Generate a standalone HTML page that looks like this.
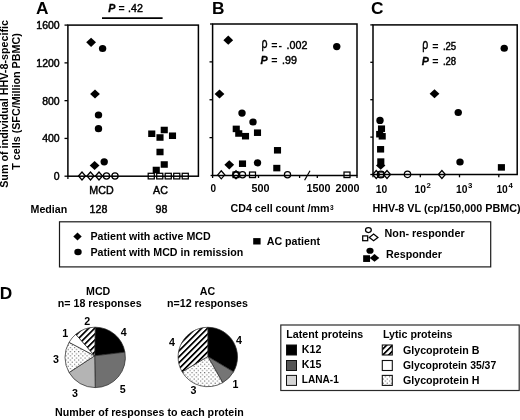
<!DOCTYPE html>
<html><head><meta charset="utf-8"><title>Figure</title>
<style>
html,body{margin:0;padding:0;background:#fff;}
svg{display:block;}
text{font-family:"Liberation Sans", Arial, sans-serif;fill:#000;}
</style></head><body>
<svg width="520" height="420" viewBox="0 0 520 420">
<defs>
<pattern id="hatch" width="4.2" height="4.2" patternUnits="userSpaceOnUse" patternTransform="rotate(-45)">
<rect width="4.2" height="4.2" fill="#fff"/><rect width="4.2" height="1.75" fill="#000"/>
</pattern>
<pattern id="dots" width="4.2" height="4.2" patternUnits="userSpaceOnUse">
<rect width="4.2" height="4.2" fill="#fff"/><rect x="0.5" y="0.5" width="1" height="1" fill="#4a4a4a"/><rect x="2.6" y="2.6" width="1" height="1" fill="#4a4a4a"/>
</pattern>
</defs>
<rect width="520" height="420" fill="#fff"/>

<text x="36" y="13.5" font-size="17.3" font-weight="bold" text-anchor="start" >A</text>
<text x="212" y="13.5" font-size="17.3" font-weight="bold" text-anchor="start" >B</text>
<text x="371" y="13.5" font-size="17.3" font-weight="bold" text-anchor="start" >C</text>
<text x="-0.3" y="299" font-size="17.3" font-weight="bold" text-anchor="start" >D</text>
<text transform="translate(7.9,187.8) rotate(-90)" font-size="11" font-weight="bold" textLength="167.8" lengthAdjust="spacingAndGlyphs">Sum of individual HHV-8-specific</text>
<text transform="translate(20.4,169.7) rotate(-90)" font-size="11" font-weight="bold" textLength="136.4" lengthAdjust="spacingAndGlyphs">T cells (SFC/Million PBMC)</text>
<rect x="67.9" y="25.1" width="130.5" height="151.1" fill="none" stroke="#000" stroke-width="1.5"/>
<line x1="64.5" y1="25.1" x2="67.9" y2="25.1" stroke="#000" stroke-width="1.3"/>
<text x="59.7" y="29.0" font-size="10.5" stroke="#000" stroke-width="0.45" text-anchor="end" >1600</text>
<line x1="64.5" y1="62.875" x2="67.9" y2="62.875" stroke="#000" stroke-width="1.3"/>
<text x="59.7" y="66.775" font-size="10.5" stroke="#000" stroke-width="0.45" text-anchor="end" >1200</text>
<line x1="64.5" y1="100.65" x2="67.9" y2="100.65" stroke="#000" stroke-width="1.3"/>
<text x="59.7" y="104.55000000000001" font-size="10.5" stroke="#000" stroke-width="0.45" text-anchor="end" >800</text>
<line x1="64.5" y1="138.42499999999998" x2="67.9" y2="138.42499999999998" stroke="#000" stroke-width="1.3"/>
<text x="59.7" y="142.325" font-size="10.5" stroke="#000" stroke-width="0.45" text-anchor="end" >400</text>
<line x1="64.5" y1="176.2" x2="67.9" y2="176.2" stroke="#000" stroke-width="1.3"/>
<text x="59.7" y="180.1" font-size="10.5" stroke="#000" stroke-width="0.45" text-anchor="end" >0</text>
<line x1="67.9" y1="176.2" x2="67.9" y2="179" stroke="#000" stroke-width="1.3"/>
<text x="108.3" y="11.5" font-size="10.67" font-weight="bold" font-style="italic" stroke="#000" stroke-width="0.3">P</text>
<text x="118.6" y="11.5" font-size="10.67" font-weight="bold">=</text>
<text x="128.0" y="11.5" font-size="10.67" stroke="#000" stroke-width="0.45">.42</text>
<line x1="102" y1="18.1" x2="162.6" y2="18.1" stroke="#000" stroke-width="1.8"/>
<polygon points="86.20,42.30 91.10,37.70 96.00,42.30 91.10,46.90" fill="#000"/>
<ellipse cx="102.60" cy="48.50" rx="3.70" ry="3.60" fill="#000"/>
<polygon points="90.10,94.00 95.00,89.40 99.90,94.00 95.00,98.60" fill="#000"/>
<ellipse cx="98.50" cy="115.00" rx="3.70" ry="3.60" fill="#000"/>
<ellipse cx="98.50" cy="128.70" rx="3.70" ry="3.60" fill="#000"/>
<polygon points="89.70,165.50 94.60,160.90 99.50,165.50 94.60,170.10" fill="#000"/>
<ellipse cx="104.20" cy="161.80" rx="3.70" ry="3.60" fill="#000"/>
<polygon points="78.50,176.00 82.00,172.00 85.50,176.00 82.00,180.00" fill="none" stroke="#000" stroke-width="1.25"/>
<polygon points="87.00,176.00 90.50,172.00 94.00,176.00 90.50,180.00" fill="none" stroke="#000" stroke-width="1.25"/>
<polygon points="95.50,176.00 99.00,172.00 102.50,176.00 99.00,180.00" fill="none" stroke="#000" stroke-width="1.25"/>
<ellipse cx="106.50" cy="176.00" rx="3.10" ry="3.10" fill="none" stroke="#000" stroke-width="1.25"/>
<ellipse cx="115.00" cy="176.00" rx="3.10" ry="3.10" fill="none" stroke="#000" stroke-width="1.25"/>
<rect x="148.20" y="130.48" width="7.10" height="6.53" fill="#000"/>
<rect x="160.70" y="126.73" width="7.10" height="6.53" fill="#000"/>
<rect x="156.45" y="134.23" width="7.10" height="6.53" fill="#000"/>
<rect x="168.95" y="132.48" width="7.10" height="6.53" fill="#000"/>
<rect x="156.45" y="148.73" width="7.10" height="6.53" fill="#000"/>
<rect x="160.70" y="161.23" width="7.10" height="6.53" fill="#000"/>
<rect x="152.70" y="166.73" width="7.10" height="6.53" fill="#000"/>
<rect x="148.20" y="173.29" width="6.10" height="5.61" fill="none" stroke="#000" stroke-width="1.25"/>
<rect x="156.70" y="173.29" width="6.10" height="5.61" fill="none" stroke="#000" stroke-width="1.25"/>
<rect x="165.20" y="173.29" width="6.10" height="5.61" fill="none" stroke="#000" stroke-width="1.25"/>
<rect x="173.70" y="173.29" width="6.10" height="5.61" fill="none" stroke="#000" stroke-width="1.25"/>
<rect x="182.20" y="173.29" width="6.10" height="5.61" fill="none" stroke="#000" stroke-width="1.25"/>
<text x="101.5" y="194" font-size="10.67" stroke="#000" stroke-width="0.45" text-anchor="middle" >MCD</text>
<text x="160.5" y="194" font-size="10.67" stroke="#000" stroke-width="0.45" text-anchor="middle" >AC</text>
<text x="30.5" y="213" font-size="10.67" font-weight="bold" text-anchor="start" >Median</text>
<text x="98.5" y="213" font-size="10.67" stroke="#000" stroke-width="0.45" text-anchor="middle" >128</text>
<text x="161.5" y="213" font-size="10.67" stroke="#000" stroke-width="0.45" text-anchor="middle" >98</text>
<rect x="212.6" y="24" width="144.4" height="151.5" fill="none" stroke="#000" stroke-width="1.5"/>
<line x1="209.5" y1="61.875" x2="212.6" y2="61.875" stroke="#000" stroke-width="1.3"/>
<line x1="209.5" y1="99.75" x2="212.6" y2="99.75" stroke="#000" stroke-width="1.3"/>
<line x1="209.5" y1="137.625" x2="212.6" y2="137.625" stroke="#000" stroke-width="1.3"/>
<polygon points="223.35,40.20 228.25,35.60 233.15,40.20 228.25,44.80" fill="#000"/>
<polygon points="214.60,94.00 219.50,89.40 224.40,94.00 219.50,98.60" fill="#000"/>
<polygon points="224.35,164.80 229.25,160.20 234.15,164.80 229.25,169.40" fill="#000"/>
<ellipse cx="242.00" cy="113.10" rx="3.70" ry="3.60" fill="#000"/>
<ellipse cx="253.00" cy="122.00" rx="3.70" ry="3.60" fill="#000"/>
<ellipse cx="257.50" cy="162.80" rx="3.70" ry="3.60" fill="#000"/>
<ellipse cx="336.75" cy="46.60" rx="3.70" ry="3.60" fill="#000"/>
<rect x="232.70" y="125.63" width="7.10" height="6.53" fill="#000"/>
<rect x="235.20" y="130.23" width="7.10" height="6.53" fill="#000"/>
<rect x="241.95" y="132.93" width="7.10" height="6.53" fill="#000"/>
<rect x="253.95" y="129.43" width="7.10" height="6.53" fill="#000"/>
<rect x="273.95" y="147.03" width="7.10" height="6.53" fill="#000"/>
<rect x="238.95" y="160.43" width="7.10" height="6.53" fill="#000"/>
<rect x="273.25" y="164.83" width="7.10" height="6.53" fill="#000"/>
<polygon points="217.75,174.80 221.25,170.80 224.75,174.80 221.25,178.80" fill="none" stroke="#000" stroke-width="1.25"/>
<rect x="233.00" y="172.04" width="6.00" height="5.52" fill="none" stroke="#000" stroke-width="1.25"/>
<polygon points="232.50,174.80 236.00,170.80 239.50,174.80 236.00,178.80" fill="none" stroke="#000" stroke-width="1.25"/>
<ellipse cx="236.00" cy="174.80" rx="3.10" ry="3.10" fill="none" stroke="#000" stroke-width="1.25"/>
<ellipse cx="242.50" cy="174.80" rx="3.10" ry="3.10" fill="none" stroke="#000" stroke-width="1.25"/>
<rect x="249.50" y="172.04" width="6.00" height="5.52" fill="none" stroke="#000" stroke-width="1.25"/>
<ellipse cx="287.50" cy="174.80" rx="3.10" ry="3.10" fill="none" stroke="#000" stroke-width="1.25"/>
<rect x="344.00" y="172.04" width="6.00" height="5.52" fill="none" stroke="#000" stroke-width="1.25"/>
<line x1="304.6" y1="180.2" x2="310.0" y2="170.8" stroke="#000" stroke-width="1.2"/>
<line x1="299.6" y1="175.5" x2="299.6" y2="178" stroke="#000" stroke-width="1.3"/>
<line x1="317.3" y1="175.5" x2="317.3" y2="178" stroke="#000" stroke-width="1.3"/>
<line x1="212.6" y1="175.5" x2="212.6" y2="178" stroke="#000" stroke-width="1.3"/>
<line x1="258.5" y1="175.5" x2="258.5" y2="178" stroke="#000" stroke-width="1.3"/>
<line x1="357" y1="175.5" x2="357" y2="178" stroke="#000" stroke-width="1.3"/>
<line x1="210.6" y1="175.5" x2="212.6" y2="175.5" stroke="#000" stroke-width="1.3"/>
<line x1="210" y1="24" x2="212.6" y2="24" stroke="#000" stroke-width="1.3"/>
<text x="213.4" y="192" font-size="10" font-weight="bold" text-anchor="middle" >0</text>
<text x="260.6" y="192" font-size="10" font-weight="bold" text-anchor="middle" textLength="18" lengthAdjust="spacingAndGlyphs">500</text>
<text x="318.4" y="192" font-size="10" font-weight="bold" text-anchor="middle" textLength="24" lengthAdjust="spacingAndGlyphs">1500</text>
<text x="347.5" y="192" font-size="10" font-weight="bold" text-anchor="middle" textLength="24" lengthAdjust="spacingAndGlyphs">2000</text>
<text x="230.6" y="212.3" font-size="10.67" font-weight="bold">CD4 cell count /mm<tspan font-size="6.5" dx="0.4" dy="-2.2">3</tspan></text>
<text x="261.4" y="47.599999999999994" font-size="14.5" textLength="6.0" lengthAdjust="spacingAndGlyphs" stroke="#000" stroke-width="0.45">ρ</text>
<text x="271.2" y="48.8" font-size="10.67" font-weight="bold">=</text>
<text x="278.6" y="48.8" font-size="10.67" font-weight="bold">-</text>
<text x="286.6" y="48.8" font-size="10.67" stroke="#000" stroke-width="0.45">.002</text>
<text x="260.6" y="63.6" font-size="10.67" font-weight="bold" font-style="italic" stroke="#000" stroke-width="0.3">P</text>
<text x="271.2" y="63.6" font-size="10.67" font-weight="bold">=</text>
<text x="282" y="63.6" font-size="10.67" stroke="#000" stroke-width="0.45">.99</text>
<rect x="373.0" y="24.9" width="144.20000000000005" height="149.6" fill="none" stroke="#000" stroke-width="1.5"/>
<line x1="370.3" y1="24.9" x2="373.0" y2="24.9" stroke="#000" stroke-width="1.3"/>
<line x1="370.3" y1="62.3" x2="373.0" y2="62.3" stroke="#000" stroke-width="1.3"/>
<line x1="370.3" y1="99.69999999999999" x2="373.0" y2="99.69999999999999" stroke="#000" stroke-width="1.3"/>
<line x1="370.3" y1="137.1" x2="373.0" y2="137.1" stroke="#000" stroke-width="1.3"/>
<line x1="370.3" y1="174.5" x2="373.0" y2="174.5" stroke="#000" stroke-width="1.3"/>
<line x1="373.0" y1="174.5" x2="373.0" y2="177.3" stroke="#000" stroke-width="1.3"/>
<line x1="420.3" y1="174.5" x2="420.3" y2="177.3" stroke="#000" stroke-width="1.3"/>
<line x1="459.5" y1="174.5" x2="459.5" y2="177.3" stroke="#000" stroke-width="1.3"/>
<line x1="498.8" y1="174.5" x2="498.8" y2="177.3" stroke="#000" stroke-width="1.3"/>
<ellipse cx="380.00" cy="120.40" rx="3.70" ry="3.60" fill="#000"/>
<rect x="377.95" y="125.43" width="7.10" height="6.53" fill="#000"/>
<rect x="376.15" y="130.93" width="7.10" height="6.53" fill="#000"/>
<rect x="378.65" y="133.03" width="7.10" height="6.53" fill="#000"/>
<rect x="377.05" y="146.03" width="7.10" height="6.53" fill="#000"/>
<rect x="377.25" y="158.33" width="7.10" height="6.53" fill="#000"/>
<polygon points="376.00,165.60 380.70,161.40 385.40,165.60 380.70,169.80" fill="#000"/>
<ellipse cx="504.25" cy="48.25" rx="3.70" ry="3.60" fill="#000"/>
<polygon points="429.60,93.75 434.50,89.15 439.40,93.75 434.50,98.35" fill="#000"/>
<ellipse cx="458.25" cy="112.50" rx="3.70" ry="3.60" fill="#000"/>
<ellipse cx="460.00" cy="162.00" rx="3.70" ry="3.60" fill="#000"/>
<rect x="497.85" y="164.13" width="7.10" height="6.53" fill="#000"/>
<polygon points="372.75,174.50 376.25,170.50 379.75,174.50 376.25,178.50" fill="none" stroke="#000" stroke-width="1.25"/>
<ellipse cx="380.80" cy="174.50" rx="3.50" ry="3.40" fill="none" stroke="#000" stroke-width="1.25"/>
<rect x="378.10" y="172.02" width="5.40" height="4.97" fill="none" stroke="#000" stroke-width="1.25"/>
<polygon points="383.50,174.50 387.00,170.50 390.50,174.50 387.00,178.50" fill="none" stroke="#000" stroke-width="1.25"/>
<ellipse cx="407.50" cy="174.30" rx="3.20" ry="3.20" fill="none" stroke="#000" stroke-width="1.25"/>
<polygon points="438.40,174.50 441.90,170.50 445.40,174.50 441.90,178.50" fill="none" stroke="#000" stroke-width="1.25"/>
<text x="381.6" y="192.9" font-size="10.3" font-weight="bold" text-anchor="middle" >10</text>
<text x="414.5" y="192.9" font-size="10.3" font-weight="bold">10<tspan font-size="7.8" dx="0.6" dy="-4.8">2</tspan></text>
<text x="456.0" y="192.9" font-size="10.3" font-weight="bold">10<tspan font-size="7.8" dx="0.6" dy="-4.8">3</tspan></text>
<text x="496.4" y="192.9" font-size="10.3" font-weight="bold">10<tspan font-size="7.8" dx="0.6" dy="-4.8">4</tspan></text>
<text x="372.4" y="212.3" font-size="10.67" font-weight="bold" text-anchor="start" textLength="148.3" lengthAdjust="spacingAndGlyphs">HHV-8 VL (cp/150,000 PBMC)</text>
<text x="422.3" y="48.8" font-size="14.5" textLength="6.0" lengthAdjust="spacingAndGlyphs" stroke="#000" stroke-width="0.45">ρ</text>
<text x="432.2" y="50" font-size="10.67" font-weight="bold">=</text>
<text x="442.9" y="50" font-size="10.67" stroke="#000" stroke-width="0.45" textLength="13.3" lengthAdjust="spacingAndGlyphs">.25</text>
<text x="421.7" y="65.3" font-size="10.67" font-weight="bold" font-style="italic" stroke="#000" stroke-width="0.3">P</text>
<text x="432.2" y="65.3" font-size="10.67" font-weight="bold">=</text>
<text x="442.9" y="65.3" font-size="10.67" stroke="#000" stroke-width="0.45" textLength="13.3" lengthAdjust="spacingAndGlyphs">.28</text>
<rect x="59.5" y="221.8" width="431.2" height="45.1" fill="#fff" stroke="#1a1a1a" stroke-width="1.2"/>
<polygon points="73.30,236.50 77.50,232.50 81.70,236.50 77.50,240.50" fill="#000"/>
<ellipse cx="78.00" cy="252.00" rx="3.70" ry="3.20" fill="#000"/>
<text x="90.5" y="240" font-size="10.67" font-weight="bold" text-anchor="start" >Patient with active MCD</text>
<text x="90.5" y="256" font-size="10.67" font-weight="bold" text-anchor="start" >Patient with MCD in remission</text>
<rect x="253.20" y="238.10" width="7.40" height="6.40" fill="#000"/>
<text x="266.7" y="245" font-size="10.67" font-weight="bold" text-anchor="start" >AC patient</text>
<ellipse cx="368.40" cy="230.10" rx="2.90" ry="2.40" fill="none" stroke="#000" stroke-width="1.25"/>
<rect x="362.70" y="235.90" width="5.00" height="4.80" fill="none" stroke="#000" stroke-width="1.25"/>
<polygon points="369.30,237.40 373.60,234.10 377.90,237.40 373.60,240.70" fill="none" stroke="#000" stroke-width="1.25"/>
<ellipse cx="370.00" cy="250.75" rx="3.60" ry="3.10" fill="#000"/>
<rect x="363.15" y="255.25" width="6.90" height="6.70" fill="#000"/>
<polygon points="369.70,257.90 374.50,254.00 379.30,257.90 374.50,261.80" fill="#000"/>
<text x="384.6" y="236.5" font-size="10.67" font-weight="bold" text-anchor="start" textLength="80" lengthAdjust="spacingAndGlyphs">Non- responder</text>
<text x="386" y="257.5" font-size="10.67" font-weight="bold" text-anchor="start" textLength="56" lengthAdjust="spacingAndGlyphs">Responder</text>
<text x="98.2" y="294.6" font-size="10.67" font-weight="bold" text-anchor="middle" >MCD</text>
<text x="57.8" y="307.3" font-size="10.67" font-weight="bold" text-anchor="start" textLength="83.8" lengthAdjust="spacingAndGlyphs">n= 18 responses</text>
<text x="207.5" y="294.6" font-size="10.67" font-weight="bold" text-anchor="middle" >AC</text>
<text x="207.5" y="307.4" font-size="10.67" font-weight="bold" text-anchor="middle" >n=12 responses</text>
<text x="55" y="415.7" font-size="10.67" font-weight="bold" text-anchor="start" textLength="188.7" lengthAdjust="spacingAndGlyphs">Number of responses to each protein</text>
<circle cx="95.2" cy="357.4" r="30.2" fill="#fff"/>
<path d="M94.70,355.80 L95.20,327.20 A30.2,30.2 0 0 1 124.94,352.16 Z" fill="#000" stroke="#222" stroke-width="0.7" stroke-linejoin="round"/>
<path d="M94.70,355.80 L124.94,352.16 A30.2,30.2 0 0 1 95.20,387.60 Z" fill="#707070" stroke="#222" stroke-width="0.7" stroke-linejoin="round"/>
<path d="M94.70,355.80 L95.20,387.60 A30.2,30.2 0 0 1 69.05,372.50 Z" fill="#b4b4b4" stroke="#222" stroke-width="0.7" stroke-linejoin="round"/>
<path d="M94.70,355.80 L69.05,372.50 A30.2,30.2 0 0 1 69.05,342.30 Z" fill="url(#dots)" stroke="#222" stroke-width="0.7" stroke-linejoin="round"/>
<path d="M94.70,355.80 L69.05,342.30 A30.2,30.2 0 0 1 75.79,334.27 Z" fill="#fff" stroke="#222" stroke-width="0.7" stroke-linejoin="round"/>
<path d="M94.70,355.80 L75.79,334.27 A30.2,30.2 0 0 1 95.20,327.20 Z" fill="url(#hatch)" stroke="#222" stroke-width="0.7" stroke-linejoin="round"/>
<circle cx="207.8" cy="357" r="29.7" fill="#fff"/>
<path d="M207.80,356.50 L207.80,327.30 A29.7,29.7 0 0 1 233.52,371.85 Z" fill="#000" stroke="#222" stroke-width="0.7" stroke-linejoin="round"/>
<path d="M207.80,356.50 L233.52,371.85 A29.7,29.7 0 0 1 222.65,382.72 Z" fill="#757575" stroke="#222" stroke-width="0.7" stroke-linejoin="round"/>
<path d="M207.80,356.50 L222.65,382.72 A29.7,29.7 0 0 1 182.08,371.85 Z" fill="url(#dots)" stroke="#222" stroke-width="0.7" stroke-linejoin="round"/>
<path d="M207.80,356.50 L182.08,371.85 A29.7,29.7 0 0 1 207.80,327.30 Z" fill="url(#hatch)" stroke="#222" stroke-width="0.7" stroke-linejoin="round"/>
<text x="87.3" y="324.8" font-size="10.67" font-weight="bold" text-anchor="middle" >2</text>
<text x="65.2" y="336.6" font-size="10.67" font-weight="bold" text-anchor="middle" >1</text>
<text x="123.8" y="335.8" font-size="10.67" font-weight="bold" text-anchor="middle" >4</text>
<text x="55.9" y="362.7" font-size="10.67" font-weight="bold" text-anchor="middle" >3</text>
<text x="75" y="396.6" font-size="10.67" font-weight="bold" text-anchor="middle" >3</text>
<text x="122.7" y="392.5" font-size="10.67" font-weight="bold" text-anchor="middle" >5</text>
<text x="172" y="346" font-size="10.67" font-weight="bold" text-anchor="middle" >4</text>
<text x="239" y="344" font-size="10.67" font-weight="bold" text-anchor="middle" >4</text>
<text x="235.5" y="388" font-size="10.67" font-weight="bold" text-anchor="middle" >1</text>
<text x="193.5" y="394" font-size="10.67" font-weight="bold" text-anchor="middle" >3</text>
<rect x="280.8" y="325" width="238.4" height="65.5" fill="#fff" stroke="#2a2a2a" stroke-width="1.2"/>
<text x="286.3" y="337.5" font-size="10.67" font-weight="bold" text-anchor="start" >Latent proteins</text>
<text x="383" y="337.5" font-size="10.67" font-weight="bold" text-anchor="start" >Lytic proteins</text>
<rect x="286.5" y="345" width="10" height="10" fill="#000" stroke="#111" stroke-width="1"/>
<text x="301.8" y="353" font-size="10.67" font-weight="bold" text-anchor="start" >K12</text>
<rect x="286.5" y="360.5" width="10" height="10" fill="#555" stroke="#111" stroke-width="1"/>
<text x="301.8" y="368" font-size="10.67" font-weight="bold" text-anchor="start" >K15</text>
<rect x="286.5" y="375.4" width="10" height="10" fill="#d4d4d4" stroke="#111" stroke-width="1"/>
<text x="301.8" y="382.9" font-size="10.67" font-weight="bold" text-anchor="start" textLength="37" lengthAdjust="spacingAndGlyphs">LANA-1</text>
<rect x="382.3" y="345" width="10" height="10" fill="url(#hatch)" stroke="#111" stroke-width="1.1"/>
<text x="403" y="354" font-size="10.67" font-weight="bold" text-anchor="start" >Glycoprotein B</text>
<rect x="382.3" y="360.5" width="10" height="10" fill="#fff" stroke="#111" stroke-width="1.1"/>
<text x="403" y="368.7" font-size="10.67" font-weight="bold" text-anchor="start" textLength="93.2" lengthAdjust="spacingAndGlyphs">Glycoprotein 35/37</text>
<rect x="382.3" y="375.4" width="10" height="10" fill="url(#dots)" stroke="#111" stroke-width="1.1"/>
<text x="403" y="383.6" font-size="10.67" font-weight="bold" text-anchor="start" >Glycoprotein H</text>
</svg></body></html>
